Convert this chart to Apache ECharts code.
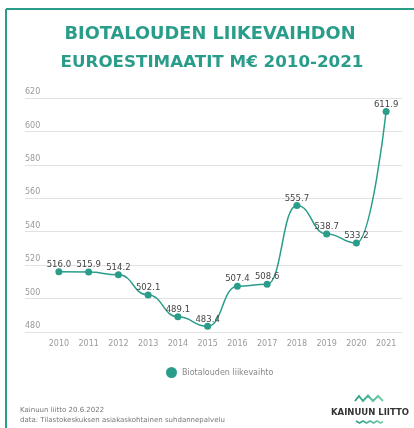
<!DOCTYPE html>
<html><head><meta charset="utf-8">
<script src="https://cdn.jsdelivr.net/npm/echarts@6/dist/echarts.min.js"></script>
<style>html,body{margin:0;padding:0;background:#fff}#c{width:414px;height:428px}</style>
</head><body><div id="c"></div>
<script>
const years = ['2010','2011','2012','2013','2014','2015','2016','2017','2018','2019','2020','2021'];
const turnover = [516.0, 515.9, 514.2, 502.1, 489.1, 483.4, 507.4, 508.6, 555.7, 538.7, 533.2, 611.9];
const seriesName = 'Biotalouden liikevaihto';
const titleLines = ['BIOTALOUDEN LIIKEVAIHDON', 'EUROESTIMAATIT M€ 2010-2021'];
const footerLines = ['Kainuun liitto 20.6.2022', 'data: Tilastokeskuksen asiakaskohtainen suhdannepalvelu'];
const yMin = 480, yMax = 620, yStep = 20;

const teal = '#2a9d8a';
const chart = echarts.init(document.getElementById('c'), null, {renderer: 'canvas'});
chart.setOption({
  animation: false,
  backgroundColor: '#fff',
  grid: [
    {left: 25, right: 12, top: 98, bottom: 96},
    {left: 44, right: 13, top: 98, bottom: 96}
  ],
  xAxis: [
    {gridIndex: 0, type: 'value', show: false, min: 0, max: 1},
    {gridIndex: 1, type: 'category', data: years, boundaryGap: true,
     axisLine: {show: false}, axisTick: {show: false},
     axisLabel: {color: '#9a9a9a', fontSize: 8, margin: 8, fontFamily: 'DejaVu Sans'}}
  ],
  yAxis: [
    {gridIndex: 0, type: 'value', min: yMin, max: yMax, interval: yStep,
     axisLine: {show: false}, axisTick: {show: false},
     splitLine: {lineStyle: {color: '#e2e2e2', width: 1}},
     axisLabel: {inside: true, verticalAlign: 'bottom', margin: 0, padding: [0,0,2,0],
                 color: '#9a9a9a', fontSize: 8, fontFamily: 'DejaVu Sans'}},
    {gridIndex: 1, type: 'value', min: yMin, max: yMax, interval: yStep, show: false,
     splitLine: {show: false}}
  ],
  legend: {
    data: [seriesName], left: 161, top: 362, icon: 'circle', itemWidth: 11, itemHeight: 11,
    itemGap: 5, textStyle: {color: '#888', fontSize: 8, fontFamily: 'DejaVu Sans'}
  },
  series: [{
    name: seriesName, type: 'line', xAxisIndex: 1, yAxisIndex: 1, data: turnover,
    smooth: 0.5, smoothMonotone: 'x', symbol: 'circle', symbolSize: 7,
    itemStyle: {color: teal}, lineStyle: {color: teal, width: 1.5},
    label: {show: true, position: 'top', distance: -1, color: '#444', fontSize: 8.5,
            fontFamily: 'DejaVu Sans', formatter: p => p.value.toFixed(1)}
  }],
  graphic: [
    {type: 'line', shape: {x1: 6, y1: 9, x2: 414, y2: 9}, style: {stroke: teal, lineWidth: 2}},
    {type: 'line', shape: {x1: 6, y1: 9, x2: 6, y2: 428}, style: {stroke: teal, lineWidth: 2}},
    {type: 'text', x: 210, y: 34.5, style: {text: titleLines[0], fill: teal, font: 'bold 17.8px "DejaVu Sans"', textAlign: 'center', textVerticalAlign: 'middle'}},
    {type: 'text', x: 212, y: 62.5, style: {text: titleLines[1], fill: teal, font: 'bold 16.7px "DejaVu Sans"', textAlign: 'center', textVerticalAlign: 'middle'}},
    {type: 'text', x: 20, y: 410.5, style: {text: footerLines[0], fill: '#777', font: '7px "DejaVu Sans"', textVerticalAlign: 'middle'}},
    {type: 'text', x: 20, y: 420.5, style: {text: footerLines[1], fill: '#777', font: '7px "DejaVu Sans"', textVerticalAlign: 'middle'}},
    {type: 'text', x: 370, y: 412.5, style: {text: 'KAINUUN LIITTO', fill: '#333', font: 'bold 8.5px "DejaVu Sans"', textAlign: 'center', textVerticalAlign: 'middle'}},
    {type: 'polyline', shape: {points: [[355,401],[359,396],[363,401],[368,395.5],[373,401],[378,396],[383,401]]},
     style: {stroke: new echarts.graphic.LinearGradient(0,0,1,0,[{offset:0,color:'#2a9d8a'},{offset:1,color:'#7fd3a8'}]), lineWidth: 2, fill: null}},
    {type: 'polyline', shape: {points: [[356,421],[359.5,423],[363,421],[366.5,423],[370,421],[373.5,423],[377,421],[380.5,423],[383,421.5]]}, smooth: 0.5,
     style: {stroke: new echarts.graphic.LinearGradient(0,0,1,0,[{offset:0,color:'#2a9d8a'},{offset:1,color:'#7fd3a8'}]), lineWidth: 1.6, fill: null}}
  ]
});
</script></body></html>
